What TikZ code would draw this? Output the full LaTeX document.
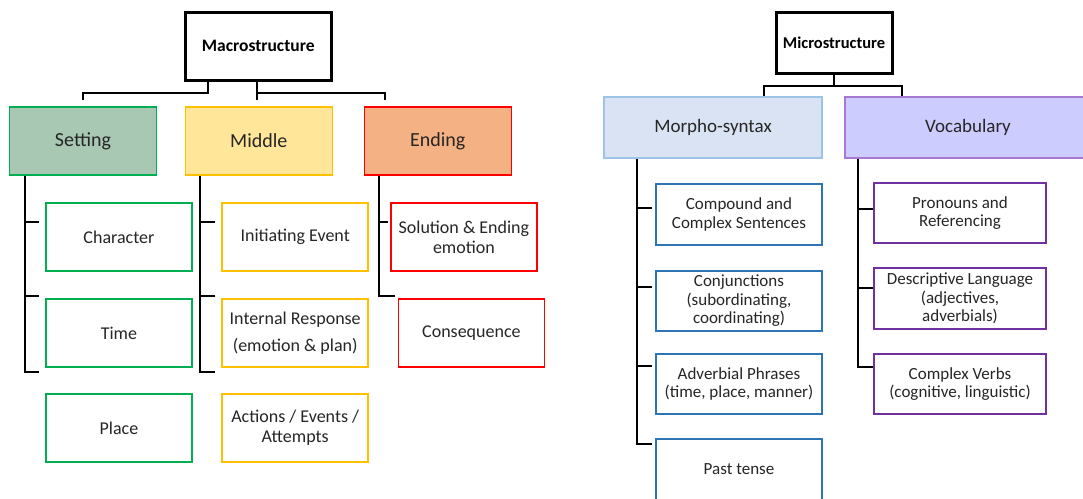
\documentclass[tikz,border=0pt]{standalone}
\usepackage{fontspec}
\setmainfont{Carlito}
\usepackage{xcolor}
\definecolor{setfill}{RGB}{168,200,180}
\definecolor{setline}{RGB}{0,176,80}
\definecolor{midfill}{RGB}{255,230,153}
\definecolor{midline}{RGB}{255,192,0}
\definecolor{endfill}{RGB}{244,177,131}
\definecolor{endline}{RGB}{255,0,0}
\definecolor{morfill}{RGB}{218,227,243}
\definecolor{morline}{RGB}{157,195,230}
\definecolor{morleaf}{RGB}{46,117,182}
\definecolor{vocfill}{RGB}{204,204,255}
\definecolor{vocline}{RGB}{166,120,212}
\definecolor{vocleaf}{RGB}{112,48,160}
\definecolor{txt}{RGB}{38,38,38}

\tikzset{
	rootbox/.style={draw, line width=3pt, text=black, font=\bfseries\fontsize{17.5}{20}\selectfont},
	headbox/.style={draw, line width=1.2pt, text=txt, font=\fontsize{20}{24}\selectfont},
	leafbox/.style={draw, line width=1.5pt, fill=white, text=txt, align=center, inner sep=1pt, font=\fontsize{18}{20}\selectfont},
	conn/.style={line width=2pt, black}
}

\begin{document}
\begin{tikzpicture}[x=1pt, y=-1pt]
	\path[use as bounding box, clip] (0,0) rectangle (1083,498);
	% macrostructure
	\node[rootbox, minimum width=146pt, minimum height=68pt] (macro) at (258.2,46) {Macrostructure};
	\node[headbox, fill=setfill, draw=setline, minimum width=147pt, minimum height=68pt] (set) at (83,141) {Setting};
	\node[headbox, fill=midfill, draw=midline, minimum width=147pt, minimum height=68pt] (mid) at (258.8,141) {Middle};
	\node[headbox, fill=endfill, draw=endline, minimum width=147pt, minimum height=68pt] (end) at (437.7,141) {Ending};

	\node[leafbox, draw=setline, minimum width=146pt, minimum height=68pt] (chr) at (118.9,237) {Character};
	\node[leafbox, draw=setline, minimum width=146pt, minimum height=68pt] (tim) at (118.9,333) {Time};
	\node[leafbox, draw=setline, minimum width=146pt, minimum height=68pt] (plc) at (118.9,428) {Place};

	\node[leafbox, draw=midline, minimum width=146pt, minimum height=68pt] (ini) at (295.2,237) {Initiating Event};
	\node[leafbox, draw=midline, minimum width=146pt, minimum height=68pt] (irs) at (295.2,333) {Internal Response\\[7pt](emotion \& plan)};
	\node[leafbox, draw=midline, minimum width=146pt, minimum height=68pt] (act) at (295.2,428) {Actions / Events /\\Attempts};

	\node[leafbox, draw=endline, minimum width=146pt, minimum height=68pt] (sol) at (463.9,237) {Solution \& Ending\\emotion};
	\node[leafbox, draw=endline, minimum width=146pt, minimum height=68pt] (con) at (471.4,333) {Consequence};

	\draw[conn] ([xshift=-50pt]macro.south) -- ++(0,11) -| ([yshift=6pt]set.north);
	\draw[conn] ([xshift=-1pt]macro.south) -- ([xshift=-1.6pt,yshift=6pt]mid.north);
	\draw[conn] ([xshift=-1pt]macro.south) ++(0,11) -| ([xshift=-52.7pt,yshift=6pt]end.north);

	\draw[conn] ([xshift=-58.5pt]set.south) |- ([xshift=-6.4pt,yshift=-4pt]tim.south west);
	\draw[conn] ([xshift=-6.4pt,yshift=15pt]chr.west) -- ++(-15,0);
	\draw[conn] ([xshift=-6.4pt,yshift=2pt]tim.north west) -- ++(-15,0);

	\draw[conn] ([xshift=-58.5pt]mid.south) |- ([xshift=-6pt,yshift=-4pt]irs.south west);
	\draw[conn] ([xshift=-6pt,yshift=15pt]ini.west) -- ++(-16,0);
	\draw[conn] ([xshift=-6pt,yshift=2pt]irs.north west) -- ++(-16,0);

	\draw[conn] ([xshift=-58.5pt]end.south) |- ([xshift=-2.5pt,yshift=2pt]con.north west);
	\draw[conn] ([xshift=-2pt,yshift=15pt]sol.west) -- ++(-10,0);

	% microstructure
	\node[rootbox, font=\bfseries\fontsize{16.5}{20}\selectfont, minimum width=116pt, minimum height=61pt] (micro) at (834,42.5) {Microstructure};
	\node[headbox, font=\fontsize{19}{22}\selectfont, fill=morfill, draw=morline, minimum width=218pt, minimum height=61pt] (mor) at (713,127.5) {Morpho-syntax};
	\node[headbox, font=\fontsize{19}{22}\selectfont, fill=vocfill, draw=vocline, minimum width=246pt, minimum height=61pt] (voc) at (968,127.5) {Vocabulary};

	\tikzset{leafbox/.append style={font=\fontsize{17}{18.5}\selectfont}}
	\node[leafbox, draw=morleaf, minimum width=166pt, minimum height=61pt] (cpd) at (739,214.5) {Compound and\\Complex Sentences};
	\node[leafbox, draw=morleaf, minimum width=166pt, minimum height=60pt] (cnj) at (739,301) {Conjunctions\\(subordinating,\\coordinating)};
	\node[leafbox, draw=morleaf, minimum width=166pt, minimum height=60pt] (adv) at (739,384) {Adverbial Phrases\\(time, place, manner)};
	\node[leafbox, draw=morleaf, minimum width=166pt, minimum height=61pt] (pst) at (739,469.5) {Past tense};

	\node[leafbox, draw=vocleaf, minimum width=172pt, minimum height=60pt] (pro) at (960,213) {Pronouns and\\Referencing};
	\node[leafbox, draw=vocleaf, minimum width=172pt, minimum height=61pt] (des) at (960,298.5) {Descriptive Language\\(adjectives,\\adverbials)};
	\node[leafbox, draw=vocleaf, minimum width=172pt, minimum height=60pt] (cvb) at (960,384) {Complex Verbs\\(cognitive, linguistic)};

	\draw[conn] (micro.south) -- ++(0,11) -| ([xshift=51pt]mor.north);
	\draw[conn] (micro.south) ++(0,11) -| ([xshift=-66pt]voc.north);

	\draw[conn] ([xshift=-76pt]mor.south) |- ([xshift=-3pt,yshift=-6pt]pst.north west);
	\draw[conn] ([xshift=-3pt,yshift=6.5pt]cpd.west) -- ++(-16,0);
	\draw[conn] ([xshift=-3pt,yshift=14pt]cnj.west) -- ++(-16,0);
	\draw[conn] ([xshift=-3pt,yshift=18pt]adv.west) -- ++(-16,0);

	\draw[conn] ([xshift=-110pt]voc.south) |- ([yshift=17pt]cvb.west);
	\draw[conn] ([yshift=4pt]pro.west) -- ++(-16,0);
	\draw[conn] ([yshift=10.5pt]des.west) -- ++(-16,0);
\end{tikzpicture}
\end{document}
